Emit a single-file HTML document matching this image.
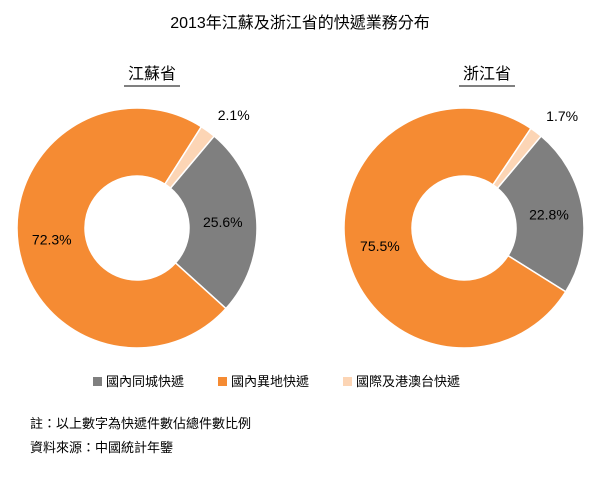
<!DOCTYPE html>
<html><head><meta charset="utf-8"><style>
body{margin:0;width:600px;height:474px;background:#fff;font-family:"Liberation Sans","Noto Sans CJK TC",sans-serif;overflow:hidden}
</style></head><body>
<svg width="600" height="474" xmlns="http://www.w3.org/2000/svg" font-family="Liberation Sans, Noto Sans CJK TC, sans-serif" id="chart">
<text x="300" y="28" text-anchor="middle" font-size="16" fill="#000">2013年江蘇及浙江省的快遞業務分布</text>
<text x="152" y="79" text-anchor="middle" font-size="16">江蘇省</text>
<line x1="124" y1="86" x2="180" y2="86" stroke="#000" stroke-width="1"/>
<text x="487" y="79" text-anchor="middle" font-size="16">浙江省</text>
<line x1="459" y1="86" x2="515" y2="86" stroke="#000" stroke-width="1"/>
<g id="donuts"></g>
<g>
<rect x="93" y="377" width="9" height="9" fill="#7f7f7f"/>
<text x="106" y="386" font-size="13">國內同城快遞</text>
<rect x="218" y="377" width="9" height="9" fill="#f58b33"/>
<text x="231" y="386" font-size="13">國內異地快遞</text>
<rect x="343" y="377" width="9" height="9" fill="#fcd5b5"/>
<text x="356" y="386" font-size="13">國際及港澳台快遞</text>
</g>
<text x="30" y="428" font-size="13">註：以上數字為快遞件數佔總件數比例</text>
<text x="30" y="452" font-size="13">資料來源：中國統計年鑒</text>
</svg>
<script>
const provinces = ["江蘇省", "浙江省"];
const sameCity = [25.6, 22.8];
const interCity = [72.3, 75.5];
const international = [2.1, 1.7];
const colors = ["#7f7f7f", "#f58b33", "#fcd5b5"];
const centersX = [137, 464];
const cy = 228, R = 120, r = 52, startDeg = 40;
const NS = "http://www.w3.org/2000/svg";
const g = document.getElementById("donuts");
function pt(cx, rad, deg){const a=(deg-90)*Math.PI/180;return [cx+rad*Math.cos(a), cy+rad*Math.sin(a)];}
function arc(cx, a0, a1){
  const large = (a1-a0)>180?1:0;
  const p0=pt(cx,R,a0),p1=pt(cx,R,a1),q1=pt(cx,r,a1),q0=pt(cx,r,a0);
  return `M${p0} A${R},${R} 0 ${large} 1 ${p1} L${q1} A${r},${r} 0 ${large} 0 ${q0} Z`;
}
provinces.forEach((p,i)=>{
  const vals=[sameCity[i], interCity[i], international[i]];
  const names=["same-city","intercity","international"];
  const total=vals.reduce((a,b)=>a+b,0);
  let a=startDeg;
  vals.forEach((v,k)=>{
    const sweep=v/total*360;
    const path=document.createElementNS(NS,"path");
    path.setAttribute("d",arc(centersX[i],a,a+sweep));
    path.setAttribute("fill",colors[k]);
    path.setAttribute("stroke","#fff");
    path.setAttribute("stroke-width","1.5");
    
    
    g.appendChild(path);
    const t=document.createElementNS(NS,"text");
    let pos;
    if(k===2){pos=pt(centersX[i],R+20,a+sweep/2);pos[0]+=14;}
    else pos=pt(centersX[i],(R+r)/2,a+sweep/2);
    t.setAttribute("x",pos[0]);t.setAttribute("y",pos[1]+5);
    t.setAttribute("text-anchor","middle");t.setAttribute("font-size","14");
    t.textContent=v.toFixed(1)+"%";
    
    
    g.appendChild(t);
    a+=sweep;
  });
});
</script>
</body></html>
